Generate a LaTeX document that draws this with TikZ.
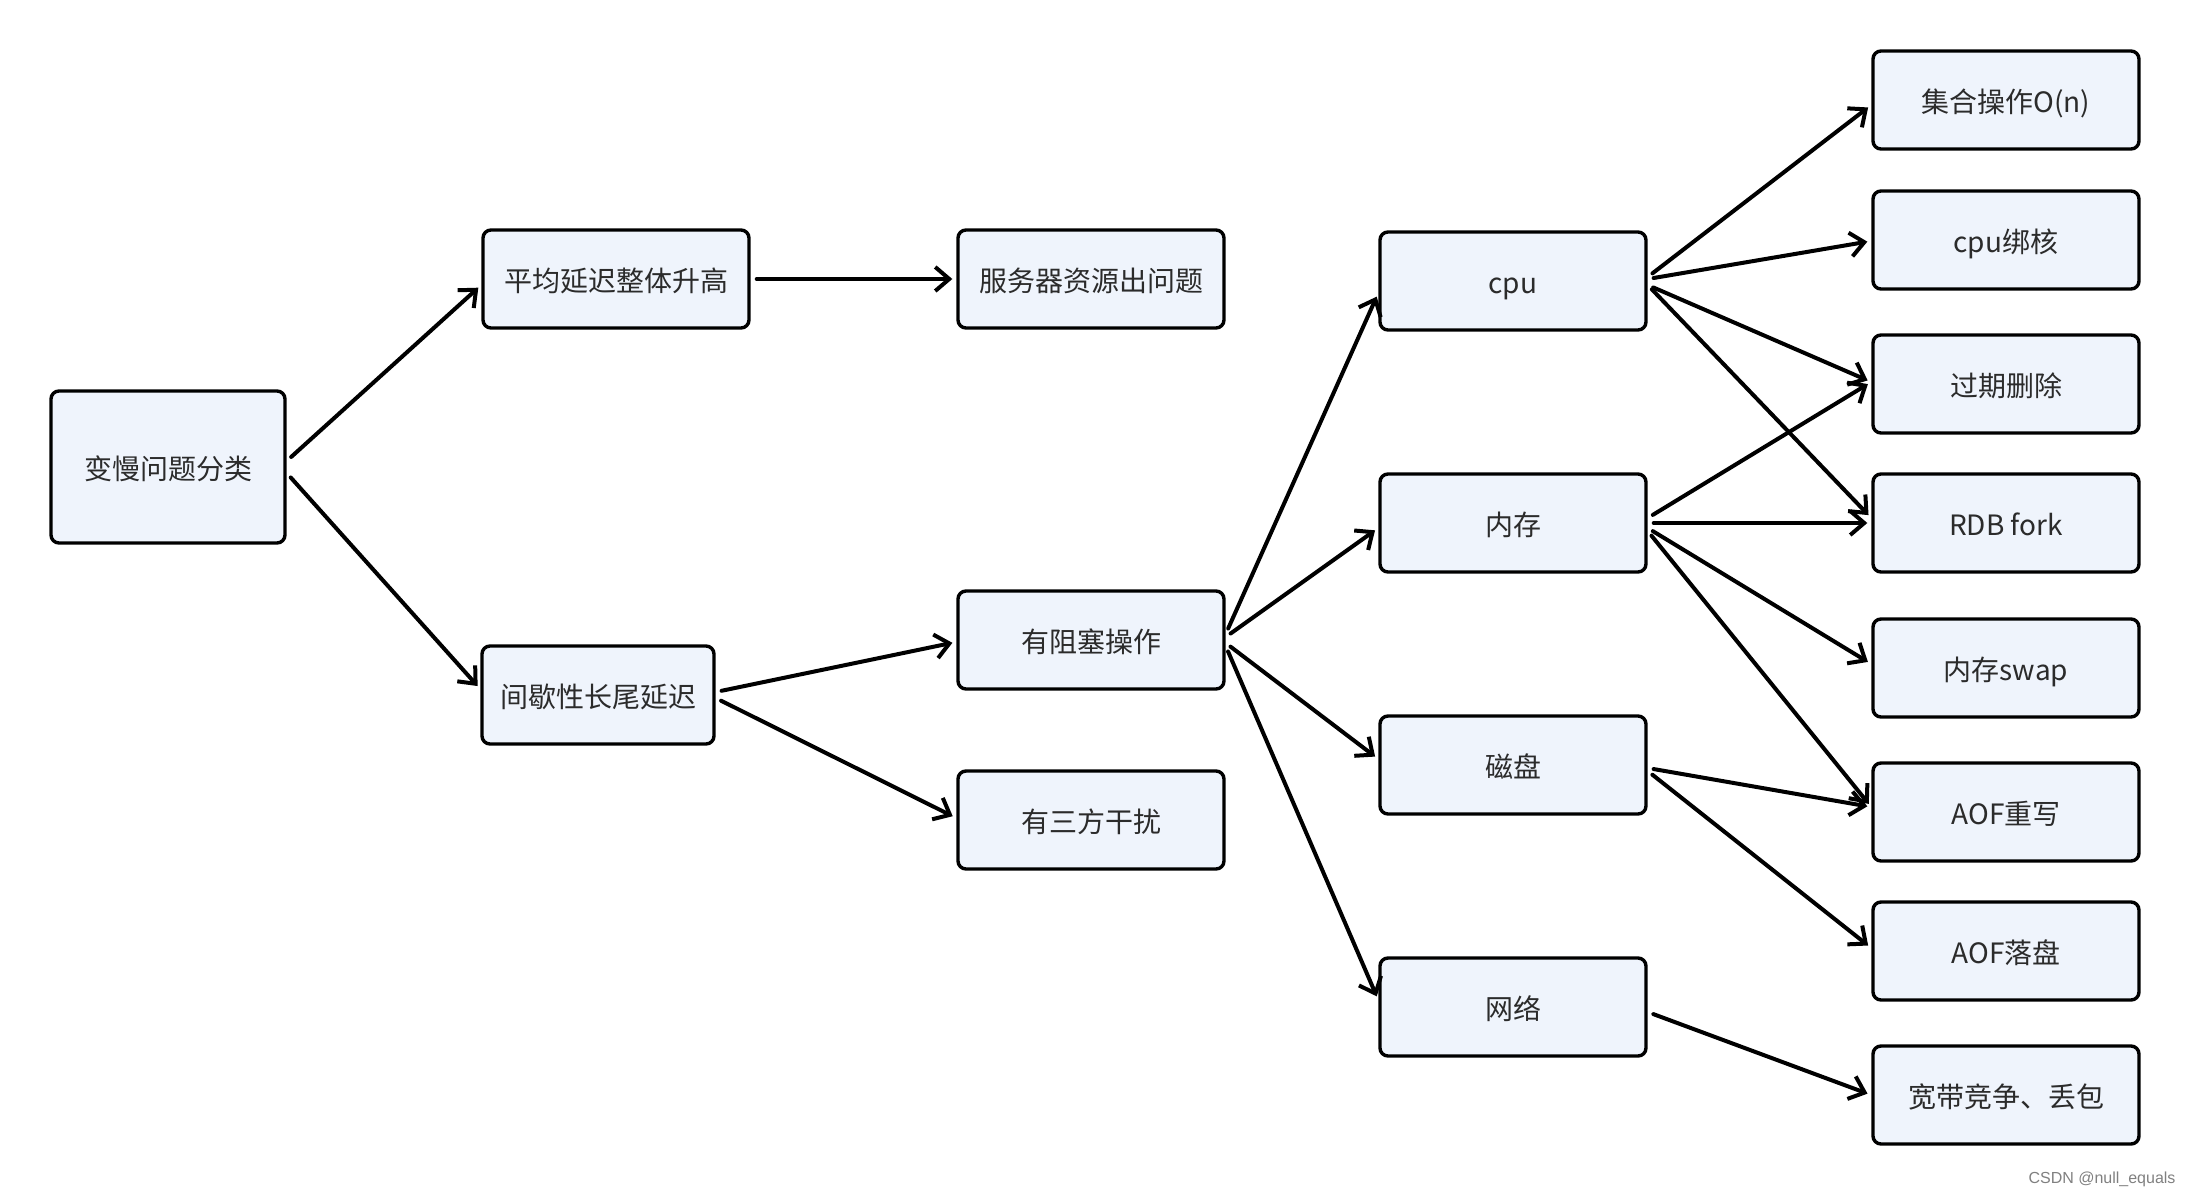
\documentclass[tikz,border=0pt]{standalone}
\usepackage{fontspec}
\setmainfont{Noto Sans CJK SC}
\newfontfamily\markfont{Liberation Sans}
\usetikzlibrary{arrows.meta}
\definecolor{boxfill}{RGB}{239,244,252}
\definecolor{boxtext}{RGB}{43,43,43}

\begin{document}
\begin{tikzpicture}[x=0.5pt,y=-0.5pt]
    \tikzstyle{box}=[draw=black, line width=1.7pt, rounded corners=4pt, fill=boxfill,
        text=boxtext, font=\fontsize{14pt}{16pt}\selectfont, inner sep=0pt,
        text height=1.4em, text depth=0.12em]
    \tikzstyle{arrow}=[line width=2pt, line cap=round, line join=round,
        -{Straight Barb[length=7pt,width=12pt,line width=2pt]},
        shorten <=3pt, shorten >=2pt]
    \useasboundingbox (0,0) rectangle (2192,1196);
    % boxes: name/x/y/width/height/text
    \foreach \n/\x/\y/\w/\h/\t in {root/168/467/117/76/变慢问题分类,
        avg/616/279/133/49/平均延迟整体升高, server/1091/279/133/49/服务器资源出问题,
        spike/598/695/116/49/间歇性长尾延迟, block/1091/640/133/49/有阻塞操作,
        third/1091/820/133/49/有三方干扰,
        cpu/1513/281/133/49/cpu, mem/1513/523/133/49/内存,
        disk/1513/765/133/49/磁盘, net/1513/1007/133/49/网络,
        setop/2006/100/133/49/集合操作O(n), bind/2006/240/133/49/cpu绑核,
        expire/2006/384/133/49/过期删除, rdb/2006/523/133/49/RDB fork,
        swap/2006/668/133/49/内存swap, aofrw/2006/812/133/49/AOF重写,
        aoffs/2006/951/133/49/AOF落盘, band/2006/1095/133/49/宽带竞争、丢包}
        \node[box, minimum width=\w pt, minimum height=\h pt] (\n) at (\x,\y) {\t};
    % connectors: from/shift/to/shift
    \foreach \a/\sa/\b/\sb in {root/3/avg/-3, root/-3/spike/3, avg/0/server/0,
        spike/1.5/block/-1, spike/-1.5/third/1,
        block/3/cpu/-6, block/1.5/mem/-2.5, block/-1.5/disk/3, block/-3/net/3.5,
        cpu/2/setop/-2.5, cpu/1/bind/-0.5, cpu/-2/expire/1, cpu/-2/rdb/2.5,
        mem/2.5/expire/1, mem/0/rdb/0, mem/-2.5/swap/2, mem/-4/aofrw/2.5,
        disk/-1.5/aofrw/2.5, disk/-3/aoffs/1.5, net/-2.5/band/0}
        \draw[arrow] ([yshift=\sa pt]\a.east) -- ([yshift=\sb pt]\b.west);
    \node[text=gray, font=\markfont\fontsize{8pt}{9pt}\selectfont] (mark) at (2102,1179) {CSDN @null\_equals};
\end{tikzpicture}
\end{document}
